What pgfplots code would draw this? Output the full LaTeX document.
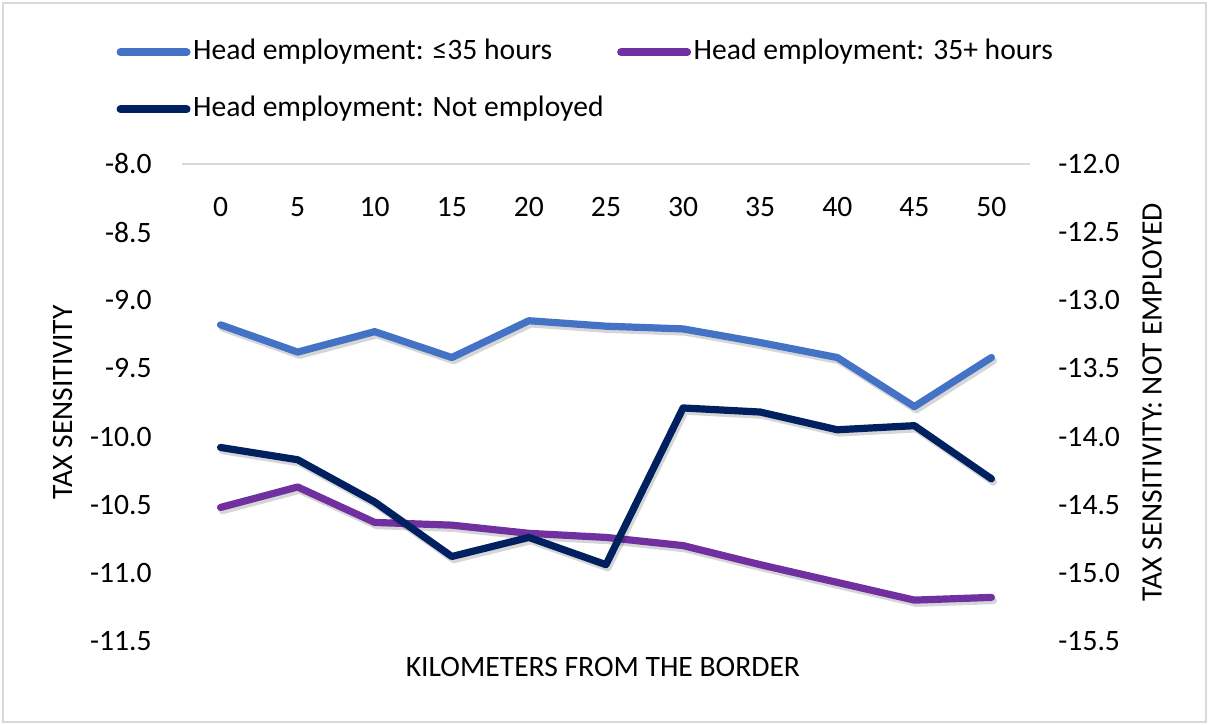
\documentclass[border=0pt]{standalone}
\usepackage{pgfplots}
\pgfplotsset{compat=1.18}
\usepackage{fontspec}
\setmainfont{Carlito}
\definecolor{cblue}{HTML}{4472C4}
\definecolor{cpurple}{HTML}{7030A0}
\definecolor{cnavy}{HTML}{002060}
\definecolor{cgrid}{HTML}{D9D9D9}
\pgfplotsset{
  base/.style={
    scale only axis, width=424bp, height=238.5bp,
    at={(0,0)}, anchor=south west,
    xmin=-2.5, xmax=52.5,
    axis line style={draw=none},
    major tick length=0pt,
    tick style={draw=none},
    clip=false,
    /pgf/number format/assume math mode=true,
    y tick label style={/pgf/number format/fixed, /pgf/number format/fixed zerofill, /pgf/number format/precision=1},
  },
  pl/.style={line width=3.6bp, line cap=round, line join=round},
  shadow/.style={black, opacity=0.16, line width=3.6bp, line cap=round, line join=round, xshift=1bp, yshift=-1.6bp, forget plot},
}
\begin{document}
\begin{tikzpicture}[font=\fontsize{14.8bp}{17bp}\selectfont]
\useasboundingbox (-91bp,-42bp) rectangle (513.5bp,320.5bp);
\draw[cgrid, line width=1bp] (-89.5bp,-40.5bp) rectangle (512bp,319bp);
\begin{axis}[base,
  ymin=-11.5, ymax=-8,
  ytick={-11.5,-11,-10.5,-10,-9.5,-9,-8.5,-8},
  xtick={0,5,10,15,20,25,30,35,40,45,50},
  xticklabel pos=upper,
  xticklabel style={anchor=center, yshift=-21.5bp},
  yticklabel style={anchor=east, xshift=-11.7bp},
  xlabel={KILOMETERS FROM THE BORDER},
  ylabel={TAX SENSITIVITY},
  every axis x label/.style={at={(axis description cs:0.5,0)}, anchor=center, yshift=-13bp, xshift=-1.5bp},
  every axis y label/.style={at={(axis description cs:-0.1409,0.5)}, rotate=90, anchor=center},
  legend columns=2,
  legend cell align=left,
  legend style={at={(axis description cs:-0.0814,1.2651)}, anchor=north west, draw=none, fill=none,
    inner sep=0pt, outer sep=0pt, row sep=13.7bp,
    nodes={inner sep=0pt, text height=11bp, text depth=3.8bp},
    /tikz/every odd column/.append style={column sep=-0.5bp},
    /tikz/every even column/.append style={column sep=5bp}},
  legend image code/.code={\path (0bp,0bp) (37bp,0bp); \draw[#1, line width=3.9bp, line cap=round] (1.95bp,0bp) -- (35.05bp,0bp);},
]
\draw[cgrid, line width=1bp] (axis cs:-2.5,-8) -- (axis cs:52.5,-8);
\addplot[shadow] coordinates {(0,-9.18)(5,-9.38)(10,-9.23)(15,-9.42)(20,-9.15)(25,-9.19)(30,-9.21)(35,-9.31)(40,-9.42)(45,-9.78)(50,-9.42)};
\addplot[cblue, pl] coordinates {(0,-9.18)(5,-9.38)(10,-9.23)(15,-9.42)(20,-9.15)(25,-9.19)(30,-9.21)(35,-9.31)(40,-9.42)(45,-9.78)(50,-9.42)};
\addlegendentry{Head employment: ≤35 hours}
\addplot[shadow] coordinates {(0,-10.52)(5,-10.37)(10,-10.63)(15,-10.65)(20,-10.71)(25,-10.74)(30,-10.80)(35,-10.94)(40,-11.07)(45,-11.20)(50,-11.18)};
\addplot[cpurple, pl] coordinates {(0,-10.52)(5,-10.37)(10,-10.63)(15,-10.65)(20,-10.71)(25,-10.74)(30,-10.80)(35,-10.94)(40,-11.07)(45,-11.20)(50,-11.18)};
\addlegendentry{Head employment: 35+ hours}
\addlegendimage{cnavy, pl}
\addlegendentry{Head employment: Not employed}
\end{axis}
\begin{axis}[base,
  ymin=-15.5, ymax=-12,
  ytick={-15.5,-15,-14.5,-14,-13.5,-13,-12.5,-12},
  xtick=\empty,
  yticklabel pos=right,
  yticklabel style={anchor=west, xshift=10.7bp},
  ylabel={TAX SENSITIVITY: NOT EMPLOYED},
  every axis y label/.style={at={(axis description cs:1.1439,0.5)}, rotate=90, anchor=center},
]
\addplot[shadow] coordinates {(0,-14.08)(5,-14.17)(10,-14.48)(15,-14.88)(20,-14.74)(25,-14.94)(30,-13.79)(35,-13.82)(40,-13.95)(45,-13.92)(50,-14.31)};
\addplot[cnavy, pl] coordinates {(0,-14.08)(5,-14.17)(10,-14.48)(15,-14.88)(20,-14.74)(25,-14.94)(30,-13.79)(35,-13.82)(40,-13.95)(45,-13.92)(50,-14.31)};
\end{axis}
\end{tikzpicture}
\end{document}
